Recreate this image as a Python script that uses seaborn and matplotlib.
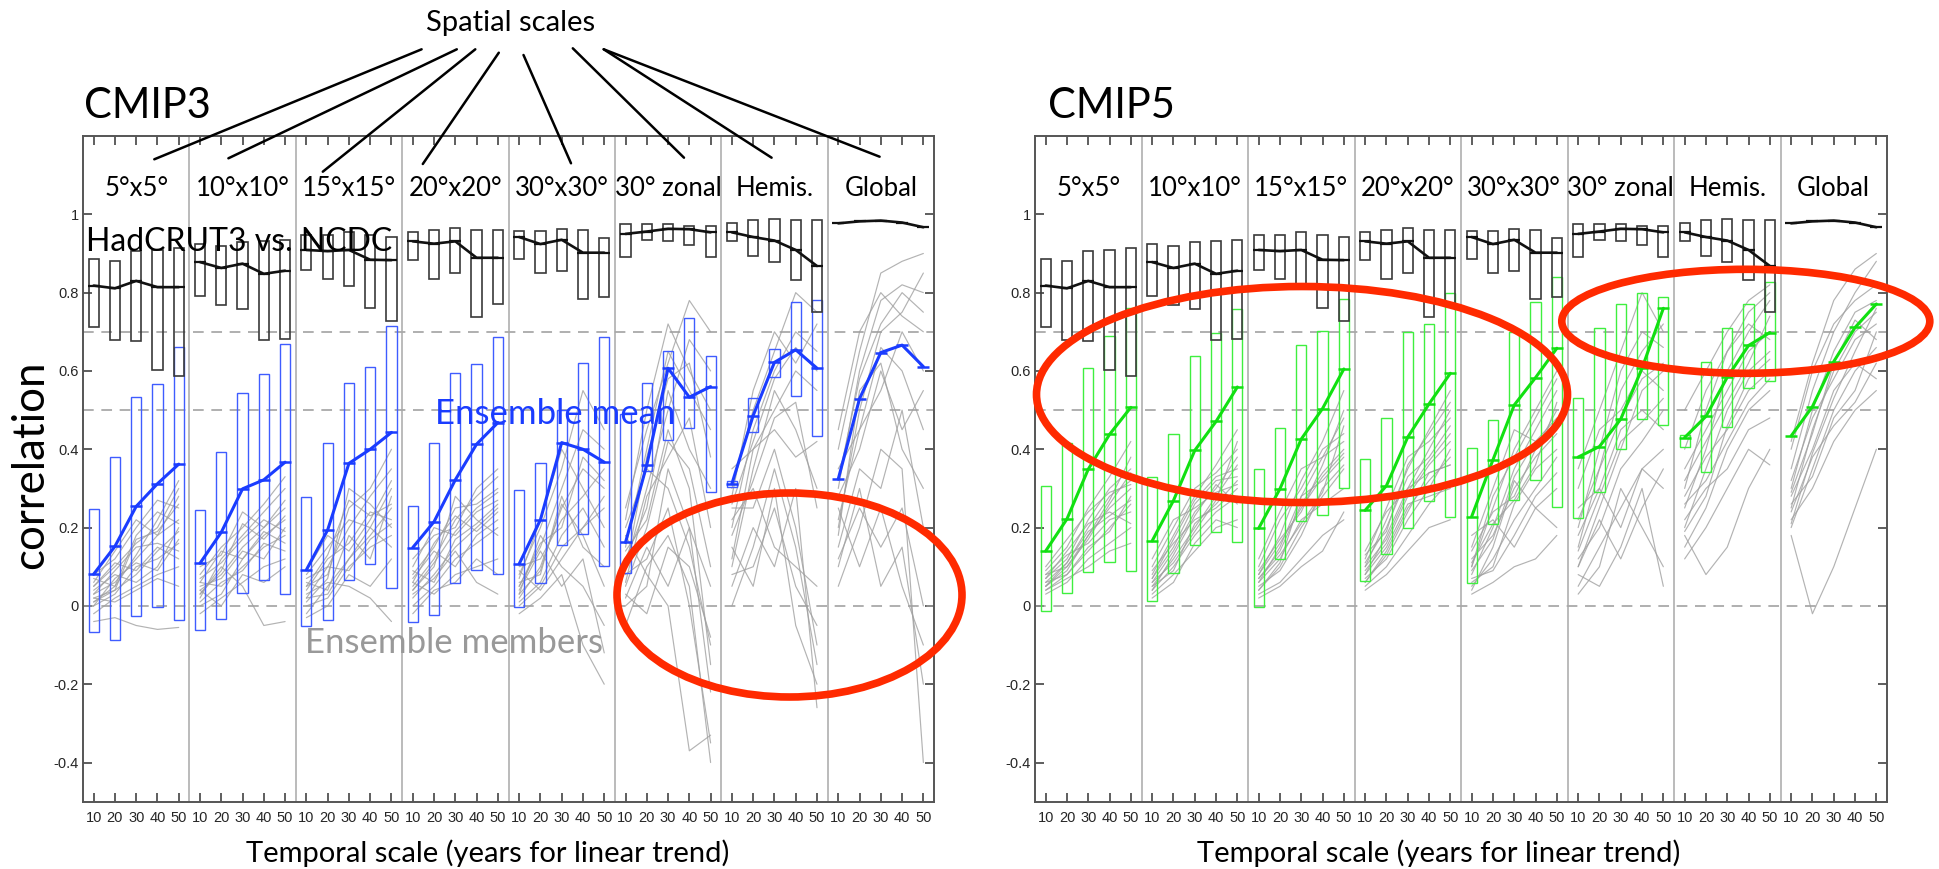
import numpy as np
import pandas as pd
import seaborn as sns
import matplotlib
matplotlib.use("Agg")
import matplotlib.pyplot as plt
from matplotlib.patches import Ellipse
from matplotlib.lines import Line2D

sns.set_theme(style="white")
plt.rcParams['font.family'] = ['Lato', 'DejaVu Sans']

# ---------------------------------------------------------------- data
spatial_scales = ["5°x5°", "10°x10°", "15°x15°", "20°x20°", "30°x30°",
                  "30° zonal", "Hemis.", "Global"]
temporal_scales = [10, 20, 30, 40, 50]
ytick_values = [-0.4, -0.2, 0, 0.2, 0.4, 0.6, 0.8, 1]
ytick_labels = ["-0.4", "-0.2", "0", "0.2", "0.4", "0.6", "0.8", "1"]

NA5 = [np.nan] * 5

# HadCRUT3 vs. NCDC: line and range per spatial scale
obs_line = [
    [0.818, 0.811, 0.830, 0.814, 0.814],
    [0.878, 0.863, 0.874, 0.848, 0.856],
    [0.909, 0.906, 0.909, 0.884, 0.883],
    [0.931, 0.925, 0.931, 0.889, 0.889],
    [0.942, 0.924, 0.935, 0.902, 0.902],
    [0.950, 0.956, 0.963, 0.962, 0.954],
    [0.954, 0.942, 0.933, 0.909, 0.868],
    [0.977, 0.982, 0.984, 0.979, 0.967],
]
obs_hi = [
    [0.887, 0.882, 0.906, 0.908, 0.915],
    [0.923, 0.920, 0.930, 0.932, 0.934],
    [0.946, 0.946, 0.955, 0.946, 0.943],
    [0.954, 0.959, 0.966, 0.959, 0.960],
    [0.958, 0.958, 0.963, 0.960, 0.939],
    [0.975, 0.975, 0.976, 0.969, 0.971],
    [0.977, 0.986, 0.989, 0.986, 0.986],
    NA5,
]
obs_lo = [
    [0.712, 0.679, 0.677, 0.603, 0.586],
    [0.791, 0.768, 0.758, 0.679, 0.681],
    [0.857, 0.834, 0.817, 0.760, 0.727],
    [0.883, 0.834, 0.849, 0.739, 0.771],
    [0.885, 0.850, 0.855, 0.785, 0.789],
    [0.892, 0.935, 0.932, 0.921, 0.892],
    [0.931, 0.894, 0.879, 0.833, 0.751],
    NA5,
]

# CMIP3 ensemble mean and range
cmip3_mean = [
    [0.081, 0.152, 0.254, 0.312, 0.362],
    [0.109, 0.188, 0.299, 0.322, 0.367],
    [0.092, 0.194, 0.364, 0.400, 0.443],
    [0.149, 0.215, 0.322, 0.413, 0.468],
    [0.107, 0.220, 0.417, 0.400, 0.367],
    [0.162, 0.360, 0.607, 0.533, 0.560],
    [0.312, 0.486, 0.622, 0.654, 0.607],
    [0.324, 0.529, 0.647, 0.666, 0.611],
]
cmip3_hi = [
    [0.247, 0.381, 0.534, 0.567, 0.661],
    [0.244, 0.394, 0.543, 0.592, 0.668],
    [0.278, 0.417, 0.570, 0.610, 0.714],
    [0.256, 0.415, 0.594, 0.618, 0.686],
    [0.296, 0.366, 0.500, 0.620, 0.686],
    [0.490, 0.570, 0.650, 0.735, 0.639],
    [0.318, 0.530, 0.657, 0.775, 0.780],
    NA5,
]
cmip3_lo = [
    [-0.067, -0.088, -0.027, -0.003, -0.037],
    [-0.061, -0.034, 0.032, 0.066, 0.030],
    [-0.051, -0.036, 0.066, 0.107, 0.045],
    [-0.041, -0.023, 0.058, 0.092, 0.082],
    [-0.002, 0.058, 0.156, 0.183, 0.103],
    [0.083, 0.345, 0.424, 0.454, 0.292],
    [0.303, 0.444, 0.584, 0.536, 0.434],
    NA5,
]

# CMIP3 individual members, per spatial scale
cmip3_members = [
    [[0.03, 0.06, 0.12, 0.18, 0.22], [0.05, 0.10, 0.16, 0.20, 0.30],
     [0.02, 0.04, 0.08, 0.14, 0.19], [0.08, 0.12, 0.20, 0.27, 0.25],
     [0.00, 0.03, 0.10, 0.12, 0.16], [0.04, 0.08, 0.06, 0.10, 0.20],
     [-0.02, 0.02, 0.05, 0.08, 0.10], [0.06, 0.14, 0.22, 0.18, 0.28],
     [0.01, 0.05, 0.13, 0.22, 0.32], [-0.04, -0.03, -0.05, -0.06, -0.055],
     [0.03, 0.09, 0.15, 0.16, 0.14], [0.02, 0.01, 0.04, 0.07, 0.05],
     [0.07, 0.05, 0.18, 0.24, 0.21], [0.00, 0.07, 0.11, 0.09, 0.17],
     [0.05, 0.11, 0.09, 0.15, 0.12], [0.01, 0.04, 0.17, 0.19, 0.26]],
    [[0.04, 0.08, 0.15, 0.20, 0.25], [0.02, 0.12, 0.18, 0.24, 0.30],
     [0.06, 0.05, 0.10, 0.15, 0.18], [0.00, 0.03, 0.12, 0.18, 0.22],
     [0.08, 0.15, 0.20, 0.26, 0.33], [-0.02, 0.02, 0.06, 0.10, 0.12],
     [0.03, 0.10, 0.05, -0.05, -0.04], [0.05, 0.07, 0.14, 0.12, 0.20],
     [0.10, 0.13, 0.24, 0.20, 0.27], [0.01, 0.06, 0.09, 0.16, 0.14],
     [0.04, 0.00, 0.08, 0.06, 0.10], [0.07, 0.11, 0.17, 0.22, 0.19],
     [0.03, 0.09, 0.21, 0.17, 0.23], [0.06, 0.14, 0.12, 0.19, 0.16]],
    [[0.02, 0.10, 0.20, 0.28, 0.35], [0.05, 0.08, 0.25, 0.30, 0.40],
     [-0.02, 0.05, 0.12, 0.18, 0.25], [0.08, 0.15, 0.22, 0.20, 0.30],
     [0.00, 0.02, 0.10, 0.15, 0.18], [0.04, 0.12, 0.16, 0.24, 0.22],
     [-0.03, 0.00, 0.08, 0.05, 0.12], [0.06, 0.04, 0.18, 0.12, 0.28],
     [0.01, 0.07, 0.30, 0.26, 0.20], [0.03, 0.06, 0.05, 0.02, -0.04],
     [0.09, 0.18, 0.14, 0.22, 0.32], [0.02, 0.03, 0.12, 0.20, 0.15],
     [0.05, 0.13, 0.27, 0.23, 0.26], [0.07, 0.10, 0.09, 0.17, 0.21]],
    [[0.05, 0.12, 0.22, 0.28, 0.33], [0.08, 0.15, 0.25, 0.26, 0.30],
     [0.02, 0.08, 0.15, 0.20, 0.25], [0.10, 0.20, 0.18, 0.24, 0.27],
     [0.00, 0.05, 0.12, 0.16, 0.20], [0.04, 0.10, 0.28, 0.22, 0.18],
     [0.06, 0.03, 0.08, 0.10, 0.12], [0.12, 0.18, 0.20, 0.30, 0.35],
     [0.03, 0.07, 0.14, 0.06, 0.03], [0.07, 0.14, 0.10, 0.18, 0.22],
     [-0.02, 0.04, 0.06, 0.12, 0.08], [0.09, 0.06, 0.17, 0.21, 0.26],
     [0.04, 0.11, 0.19, 0.25, 0.29], [0.06, 0.16, 0.23, 0.19, 0.24]],
    [[0.05, 0.15, 0.30, 0.45, 0.40], [0.02, 0.10, 0.25, 0.35, 0.30],
     [0.08, 0.20, 0.35, 0.55, 0.45], [0.00, 0.05, 0.15, 0.20, 0.25],
     [0.10, 0.12, 0.22, 0.28, 0.35], [0.03, 0.18, 0.10, 0.05, -0.05],
     [-0.02, 0.02, 0.08, -0.10, -0.20], [0.06, 0.08, 0.28, 0.15, 0.10],
     [0.04, 0.14, 0.05, 0.12, -0.12], [0.07, 0.22, 0.40, 0.30, 0.20],
     [0.01, 0.06, 0.18, 0.25, 0.15], [0.09, 0.04, 0.12, 0.20, 0.28],
     [0.05, 0.16, 0.20, 0.38, 0.32], [0.03, 0.09, 0.26, 0.18, 0.05]],
    [[0.25, 0.45, 0.62, 0.78, 0.70], [0.15, 0.40, 0.65, 0.55, 0.45],
     [0.10, 0.30, 0.50, 0.68, 0.60], [0.05, 0.20, 0.42, 0.35, 0.10],
     [0.20, 0.35, 0.30, 0.15, -0.10], [0.02, 0.15, 0.05, 0.20, -0.22],
     [0.08, 0.12, 0.25, 0.00, -0.35], [-0.05, 0.10, 0.18, 0.05, -0.40],
     [0.12, 0.25, 0.55, 0.40, 0.30], [0.03, -0.02, 0.15, 0.10, -0.08],
     [0.18, 0.08, 0.00, -0.37, -0.33], [0.00, 0.05, 0.35, 0.20, 0.05],
     [0.22, 0.50, 0.72, 0.60, 0.50], [0.06, 0.28, 0.38, 0.48, 0.20],
     [0.14, 0.22, 0.45, 0.30, -0.15], [0.09, 0.38, 0.58, 0.62, 0.38]],
    [[0.30, 0.50, 0.65, 0.80, 0.75], [0.20, 0.45, 0.60, 0.70, 0.65],
     [0.10, 0.35, 0.55, 0.45, 0.30], [0.25, 0.25, 0.40, 0.20, -0.10],
     [0.05, 0.20, 0.10, 0.30, -0.26], [0.15, 0.05, 0.30, -0.05, -0.20],
     [0.35, 0.40, 0.50, 0.60, 0.55], [0.00, 0.15, 0.35, 0.15, -0.15],
     [0.22, 0.30, 0.15, 0.10, 0.05], [0.12, 0.40, 0.45, 0.38, 0.42],
     [0.28, 0.55, 0.70, 0.62, 0.72], [0.08, 0.10, 0.25, 0.05, -0.05],
     [0.18, 0.32, 0.48, 0.52, 0.25], [0.26, 0.42, 0.58, 0.66, 0.60]],
    [[0.40, 0.65, 0.85, 0.88, 0.90], [0.30, 0.60, 0.78, 0.82, 0.80],
     [0.20, 0.50, 0.70, 0.75, 0.85], [0.35, 0.45, 0.55, 0.70, 0.60],
     [0.15, 0.35, 0.30, 0.50, 0.20], [0.25, 0.10, 0.25, 0.05, -0.10],
     [0.10, 0.30, 0.05, 0.15, -0.20], [0.05, 0.20, 0.40, 0.35, -0.40],
     [0.28, 0.40, 0.60, 0.45, 0.55], [0.18, 0.55, 0.62, 0.40, 0.30],
     [0.45, 0.70, 0.80, 0.74, 0.70], [0.12, 0.25, 0.15, 0.25, 0.00],
     [0.22, 0.45, 0.66, 0.60, 0.45], [0.32, 0.58, 0.72, 0.80, 0.75]],
]

# CMIP5 ensemble mean and range
cmip5_mean = [
    [0.140, 0.222, 0.349, 0.438, 0.507],
    [0.166, 0.269, 0.397, 0.471, 0.559],
    [0.198, 0.299, 0.426, 0.504, 0.605],
    [0.244, 0.307, 0.431, 0.516, 0.594],
    [0.228, 0.373, 0.513, 0.583, 0.658],
    [0.380, 0.407, 0.477, 0.607, 0.760],
    [0.430, 0.484, 0.584, 0.665, 0.698],
    [0.434, 0.509, 0.624, 0.711, 0.771],
]
cmip5_hi = [
    [0.305, 0.415, 0.607, 0.690, 0.760],
    [0.329, 0.440, 0.639, 0.696, 0.758],
    [0.349, 0.454, 0.665, 0.701, 0.785],
    [0.376, 0.481, 0.699, 0.719, 0.799],
    [0.402, 0.474, 0.700, 0.775, 0.839],
    [0.530, 0.709, 0.770, 0.798, 0.790],
    [0.437, 0.624, 0.709, 0.771, 0.827],
    NA5,
]
cmip5_lo = [
    [-0.013, 0.032, 0.086, 0.113, 0.088],
    [0.013, 0.083, 0.156, 0.188, 0.162],
    [-0.003, 0.120, 0.218, 0.232, 0.300],
    [0.064, 0.133, 0.198, 0.268, 0.228],
    [0.058, 0.209, 0.271, 0.322, 0.252],
    [0.224, 0.290, 0.401, 0.478, 0.462],
    [0.407, 0.342, 0.458, 0.556, 0.575],
    NA5,
]

# CMIP5 individual members, per spatial scale
cmip5_members = [
    [[0.05, 0.10, 0.18, 0.25, 0.30], [0.07, 0.12, 0.22, 0.30, 0.35],
     [0.04, 0.08, 0.14, 0.20, 0.26], [0.09, 0.15, 0.25, 0.33, 0.42],
     [0.03, 0.06, 0.12, 0.16, 0.20], [0.06, 0.11, 0.20, 0.28, 0.32],
     [0.08, 0.13, 0.16, 0.22, 0.24], [0.05, 0.09, 0.18, 0.27, 0.38],
     [0.04, 0.07, 0.10, 0.14, 0.16], [0.10, 0.17, 0.24, 0.29, 0.31],
     [0.06, 0.08, 0.15, 0.19, 0.28], [0.07, 0.14, 0.21, 0.24, 0.21],
     [0.05, 0.11, 0.19, 0.23, 0.27], [0.08, 0.10, 0.17, 0.26, 0.34]],
    [[0.06, 0.14, 0.24, 0.30, 0.38], [0.08, 0.18, 0.28, 0.36, 0.45],
     [0.04, 0.10, 0.18, 0.24, 0.28], [0.10, 0.20, 0.30, 0.34, 0.40],
     [0.03, 0.08, 0.14, 0.20, 0.22], [0.07, 0.15, 0.26, 0.32, 0.33],
     [0.12, 0.22, 0.25, 0.29, 0.31], [0.05, 0.12, 0.20, 0.28, 0.36],
     [0.02, 0.06, 0.16, 0.22, 0.20], [0.09, 0.16, 0.22, 0.25, 0.30],
     [0.06, 0.11, 0.19, 0.27, 0.42], [0.04, 0.13, 0.23, 0.31, 0.26],
     [0.07, 0.17, 0.27, 0.33, 0.35], [0.05, 0.09, 0.21, 0.26, 0.32]],
    [[0.06, 0.15, 0.28, 0.38, 0.48], [0.08, 0.18, 0.32, 0.42, 0.55],
     [0.04, 0.10, 0.20, 0.28, 0.35], [0.10, 0.22, 0.30, 0.40, 0.44],
     [0.03, 0.06, 0.12, 0.18, 0.22], [0.07, 0.14, 0.26, 0.34, 0.40],
     [0.12, 0.24, 0.35, 0.38, 0.42], [0.05, 0.09, 0.18, 0.30, 0.36],
     [0.02, 0.05, 0.10, 0.14, 0.24], [0.09, 0.17, 0.24, 0.36, 0.50],
     [0.06, 0.12, 0.22, 0.26, 0.30], [0.04, 0.11, 0.28, 0.32, 0.38],
     [0.08, 0.16, 0.25, 0.33, 0.39], [0.07, 0.13, 0.21, 0.29, 0.46]],
    [[0.08, 0.18, 0.30, 0.40, 0.50], [0.10, 0.22, 0.35, 0.45, 0.55],
     [0.06, 0.14, 0.25, 0.32, 0.38], [0.12, 0.25, 0.38, 0.42, 0.48],
     [0.04, 0.08, 0.14, 0.20, 0.22], [0.09, 0.16, 0.28, 0.36, 0.42],
     [0.14, 0.24, 0.30, 0.34, 0.36], [0.07, 0.12, 0.22, 0.30, 0.40],
     [0.05, 0.10, 0.18, 0.26, 0.32], [0.11, 0.20, 0.33, 0.38, 0.46],
     [0.08, 0.15, 0.26, 0.28, 0.30], [0.13, 0.19, 0.36, 0.44, 0.52],
     [0.10, 0.17, 0.29, 0.37, 0.44], [0.06, 0.13, 0.24, 0.34, 0.36]],
    [[0.08, 0.20, 0.35, 0.45, 0.55], [0.10, 0.25, 0.40, 0.50, 0.60],
     [0.05, 0.12, 0.22, 0.30, 0.38], [0.15, 0.30, 0.45, 0.42, 0.48],
     [0.03, 0.06, 0.10, 0.12, 0.18], [0.12, 0.18, 0.30, 0.38, 0.44],
     [0.18, 0.22, 0.15, 0.25, 0.30], [0.06, 0.10, 0.26, 0.35, 0.40],
     [0.04, 0.15, 0.32, 0.25, 0.20], [0.10, 0.28, 0.38, 0.48, 0.58],
     [0.07, 0.09, 0.18, 0.28, 0.34], [0.14, 0.24, 0.28, 0.40, 0.50],
     [0.09, 0.17, 0.33, 0.42, 0.46], [0.11, 0.21, 0.27, 0.36, 0.52]],
    [[0.15, 0.35, 0.55, 0.65, 0.72], [0.20, 0.40, 0.60, 0.70, 0.66],
     [0.10, 0.25, 0.40, 0.55, 0.60], [0.30, 0.45, 0.50, 0.60, 0.55],
     [0.05, 0.15, 0.25, 0.35, 0.40], [0.12, 0.20, 0.35, 0.42, 0.50],
     [0.25, 0.30, 0.20, 0.35, 0.30], [0.08, 0.05, 0.15, 0.30, 0.05],
     [0.18, 0.30, 0.45, 0.50, 0.45], [0.03, 0.10, 0.30, 0.20, 0.10],
     [0.35, 0.50, 0.65, 0.80, 0.70], [0.10, 0.22, 0.12, 0.25, 0.35],
     [0.22, 0.35, 0.48, 0.58, 0.62], [0.14, 0.28, 0.42, 0.47, 0.53]],
    [[0.25, 0.40, 0.60, 0.70, 0.78], [0.30, 0.50, 0.65, 0.75, 0.80],
     [0.20, 0.35, 0.50, 0.60, 0.65], [0.35, 0.45, 0.55, 0.65, 0.70],
     [0.15, 0.25, 0.40, 0.50, 0.55], [0.40, 0.55, 0.65, 0.72, 0.68],
     [0.22, 0.30, 0.35, 0.45, 0.48], [0.12, 0.20, 0.30, 0.40, 0.36],
     [0.28, 0.38, 0.45, 0.55, 0.60], [0.18, 0.08, 0.15, 0.30, 0.40],
     [0.50, 0.60, 0.70, 0.78, 0.82], [0.26, 0.32, 0.42, 0.52, 0.58],
     [0.19, 0.28, 0.46, 0.58, 0.63], [0.32, 0.42, 0.52, 0.62, 0.74]],
    [[0.35, 0.55, 0.70, 0.80, 0.88], [0.30, 0.50, 0.65, 0.75, 0.78],
     [0.25, 0.45, 0.60, 0.70, 0.75], [0.40, 0.60, 0.72, 0.78, 0.82],
     [0.20, 0.35, 0.50, 0.60, 0.66], [0.28, 0.40, 0.55, 0.62, 0.58],
     [0.22, 0.30, 0.42, 0.50, 0.55], [0.18, -0.02, 0.10, 0.25, 0.40],
     [0.32, 0.48, 0.58, 0.68, 0.72], [0.24, 0.38, 0.46, 0.52, 0.62],
     [0.42, 0.62, 0.78, 0.86, 0.90], [0.26, 0.33, 0.48, 0.55, 0.70],
     [0.29, 0.44, 0.62, 0.73, 0.68], [0.21, 0.39, 0.53, 0.65, 0.76]],
]

# ---------------------------------------------------------------- helpers
N_GROUPS = len(spatial_scales)
N_T = len(temporal_scales)
positions = [g * N_T + k + 0.5 for g in range(N_GROUPS) for k in range(N_T)]
BOX_W = 0.48
W, H = 1939, 869
TICK_FONT = ["Liberation Sans", "DejaVu Sans"]


def long_frame(series_by_group, key="unit"):
    rows = []
    for g, series in enumerate(series_by_group):
        for m, line in enumerate(series):
            for k, v in enumerate(line):
                if not np.isnan(v):
                    rows.append((f"{g}-{m}", g * N_T + k + 0.5, v))
    return pd.DataFrame(rows, columns=[key, "x", "r"])


def draw_boxes(ax, lo, hi, edgecolor, lw):
    xs, bottoms, heights = [], [], []
    for g in range(N_GROUPS):
        for k in range(N_T):
            a, b = lo[g][k], hi[g][k]
            if np.isnan(a) or np.isnan(b):
                continue
            xs.append(g * N_T + k + 0.5)
            bottoms.append(a)
            heights.append(b - a)
    ax.bar(xs, heights, bottom=bottoms, width=BOX_W, fill=False,
           edgecolor=edgecolor, linewidth=lw, zorder=3)


def draw_panel(ax, mean, lo, hi, members, color, box_color):
    # reference lines and spatial-scale separators
    for yv in (0.0, 0.5, 0.7):
        ax.axhline(yv, color="#9a9a9a", lw=1.1, ls=(0, (7, 5)), zorder=1)
    for g in range(1, N_GROUPS):
        ax.axvline(g * N_T, color="#a8a8a8", lw=1.1, zorder=1)

    # individual ensemble members
    mem = long_frame(members)
    sns.lineplot(data=mem, x="x", y="r", units="unit", estimator=None,
                 color="#a0a0a0", lw=0.85, alpha=0.8, ax=ax, legend=False,
                 zorder=2)

    # ensemble ranges and HadCRUT3 vs. NCDC ranges
    draw_boxes(ax, lo, hi, box_color, 1.0)
    draw_boxes(ax, obs_lo, obs_hi, "#3a3a3a", 1.2)

    # ensemble mean
    mdf = long_frame([[row] for row in mean])
    sns.lineplot(data=mdf, x="x", y="r", units="unit", estimator=None,
                 color=color, lw=2.2, marker="_", markersize=8, mew=1.8,
                 markeredgecolor=color, ax=ax, legend=False, zorder=4)

    # HadCRUT3 vs. NCDC
    odf = long_frame([[row] for row in obs_line])
    sns.lineplot(data=odf, x="x", y="r", units="unit", estimator=None,
                 color="#111111", lw=1.9, marker="_", markersize=8, mew=1.6,
                 markeredgecolor="#111111", ax=ax, legend=False, zorder=5)

    for g, name in enumerate(spatial_scales):
        ax.text(g * N_T + N_T / 2, 1.065, name, ha="center", va="center",
                fontsize=18.5, color="black", zorder=6)

    ax.set_xlim(0, N_GROUPS * N_T)
    ax.set_ylim(-0.5, 1.2)
    ax.set_xticks(positions)
    ax.set_xticklabels([str(t) for t in temporal_scales] * N_GROUPS,
                       family=TICK_FONT, fontsize=10.5)
    ax.set_yticks(ytick_values)
    ax.set_yticklabels(ytick_labels, family=TICK_FONT, fontsize=10.5)
    ax.tick_params(axis="both", direction="in", length=6.5, width=1.1,
                   color="#333333", top=True, right=True, bottom=True,
                   left=True, labeltop=False, labelright=False)
    ax.tick_params(axis="x", pad=7)
    ax.tick_params(axis="y", pad=3)
    ax.set_xlabel("")
    ax.set_ylabel("")
    for sp in ax.spines.values():
        sp.set_color("#555555")
        sp.set_linewidth(1.4)


# ---------------------------------------------------------------- figure
fig = plt.figure(figsize=(W / 100, H / 100), dpi=100)
fig.patch.set_facecolor("white")

ax3 = fig.add_axes([83 / W, 1 - 801.7 / H, 851 / W, 665.7 / H])
ax5 = fig.add_axes([1035 / W, 1 - 801.7 / H, 852 / W, 665.7 / H])

draw_panel(ax3, cmip3_mean, cmip3_lo, cmip3_hi, cmip3_members,
           "#1a3cff", "#3f5cff")
draw_panel(ax5, cmip5_mean, cmip5_lo, cmip5_hi, cmip5_members,
           "#11e011", "#3fef3f")

# annotations on the CMIP3 panel
ax3.text(0.14, 0.93, "HadCRUT3 vs. NCDC", ha="left", va="center",
         fontsize=23, color="black", zorder=7)
ax3.text(16.55, 0.49, "Ensemble mean", ha="left", va="center",
         fontsize=25, color="#1a3cff", zorder=7)
ax3.text(10.44, -0.095, "Ensemble members", ha="left", va="center",
         fontsize=25, color="#999999", zorder=7)

# panel titles and shared labels
fig.text(84 / W, 1 - 118 / H, "CMIP3", ha="left", va="baseline",
         fontsize=30, color="black")
fig.text(1048 / W, 1 - 118 / H, "CMIP5", ha="left", va="baseline",
         fontsize=30, color="black")
fig.text(31 / W, 1 - 465 / H, "correlation", rotation=90, ha="center",
         va="center", fontsize=31.5, color="black")
for cx in (488, 1439):
    fig.text(cx / W, 1 - 853 / H, "Temporal scale (years for linear trend)",
             ha="center", va="center", fontsize=21, color="black")

fig.text(511 / W, 1 - 23 / H, "Spatial scales", ha="center", va="center",
         fontsize=21, color="black")

# pointer lines from "Spatial scales" to each spatial-scale label
pointers = [
    ((421.6, 49.3), (154.3, 159.3)),
    ((456.8, 49.3), (228.4, 158.3)),
    ((475.3, 49.3), (322.8, 171.7)),
    ((498.8, 52.7), (422.8, 164.0)),
    ((523.5, 55.0), (571.0, 163.3)),
    ((572.8, 48.3), (684.0, 157.7)),
    ((603.7, 49.3), (771.6, 157.7)),
    ((603.7, 49.3), (879.6, 156.7)),
]
for (x0, y0), (x1, y1) in pointers:
    fig.add_artist(Line2D([x0 / W, x1 / W], [1 - y0 / H, 1 - y1 / H],
                          transform=fig.transFigure, color="black", lw=1.8,
                          zorder=10))

# highlighted regions
highlights = [
    ((789.5, 595.0), 345, 204),
    ((1302.0, 394.5), 531, 216),
    ((1745.8, 321.3), 368, 104),
]
for (cx, cy), ew, eh in highlights:
    fig.add_artist(Ellipse((cx / W, 1 - cy / H), ew / W, eh / H,
                           transform=fig.transFigure, fill=False,
                           edgecolor="#ff2a00", lw=5.5, zorder=11))

fig.savefig("out.png", dpi=100)
